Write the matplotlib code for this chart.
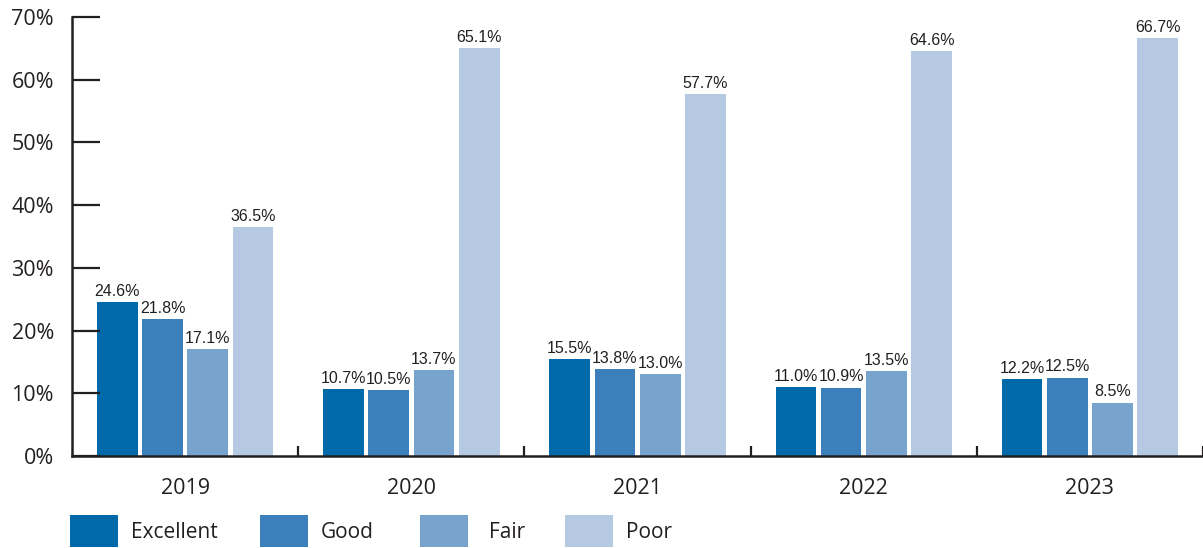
import numpy as np
import matplotlib.pyplot as plt
from matplotlib.patches import Patch

years = ["2019", "2020", "2021", "2022", "2023"]
ratings = ["Excellent", "Good", "Fair", "Poor"]
excellent = [24.6, 10.7, 15.5, 11.0, 12.2]
good = [21.8, 10.5, 13.8, 10.9, 12.5]
fair = [17.1, 13.7, 13.0, 13.5, 8.5]
poor = [36.5, 65.1, 57.7, 64.6, 66.7]
colors = ["#0069AA", "#3B80BA", "#78A3CC", "#B5C9E2"]

series = [excellent, good, fair, poor]

# legend entry left edges, in figure pixels
legend_x = [70, 260, 420, 565]

narrow = ["Liberation Sans", "DejaVu Sans"]
plain = ["Open Sans", "DejaVu Sans"]
ink = "#231F20"

fig = plt.figure(figsize=(12.03, 5.48), dpi=100)
ax = fig.add_axes([0.0599, 0.168, 0.9401, 0.801])

x = np.arange(len(years))
step = 0.2
width = 0.18
for i, vals in enumerate(series):
    pos = x + (i - 1.5) * step
    ax.bar(pos, vals, width, color=colors[i])
    for px, v in zip(pos, vals):
        ax.text(px, v + 0.5, f"{v:.1f}%", ha="center", va="bottom",
                fontsize=11.5, family=narrow, color=ink)

ax.set_xlim(-0.5, 4.5)
ax.set_ylim(0, 70)
ax.set_yticks(range(0, 71, 10))
ax.set_yticklabels([f"{t}%" for t in range(0, 71, 10)], family=plain, fontsize=15.5)
ax.set_xticks(x)
ax.set_xticklabels(years, family=plain, fontsize=15.5)
ax.set_xticks(np.arange(0.5, 5, 1), minor=True)

ax.tick_params(axis="y", direction="in", length=20, width=1.6, pad=13, colors=ink)
ax.tick_params(axis="x", which="major", length=0, pad=16, colors=ink)
ax.tick_params(axis="x", which="minor", direction="in", length=7, width=1.6, color=ink)

for s in ["top", "right"]:
    ax.spines[s].set_visible(False)
for s in ["left", "bottom"]:
    ax.spines[s].set_linewidth(1.8)
    ax.spines[s].set_color(ink)

gaps = [0.6, 0.6, 1.0, 0.6]
for c, lab, lx, g in zip(colors, ratings, legend_x, gaps):
    leg = fig.legend([Patch(facecolor=c)], [lab], loc="lower left",
                     bbox_to_anchor=((lx - 10) / 1203, -0.0175),
                     frameon=False, borderpad=0, handlelength=2.3, handleheight=2.0,
                     handletextpad=g, prop={"family": plain, "size": 15})
    for t in leg.get_texts():
        t.set_color(ink)

fig.savefig("out.png", dpi=100)
